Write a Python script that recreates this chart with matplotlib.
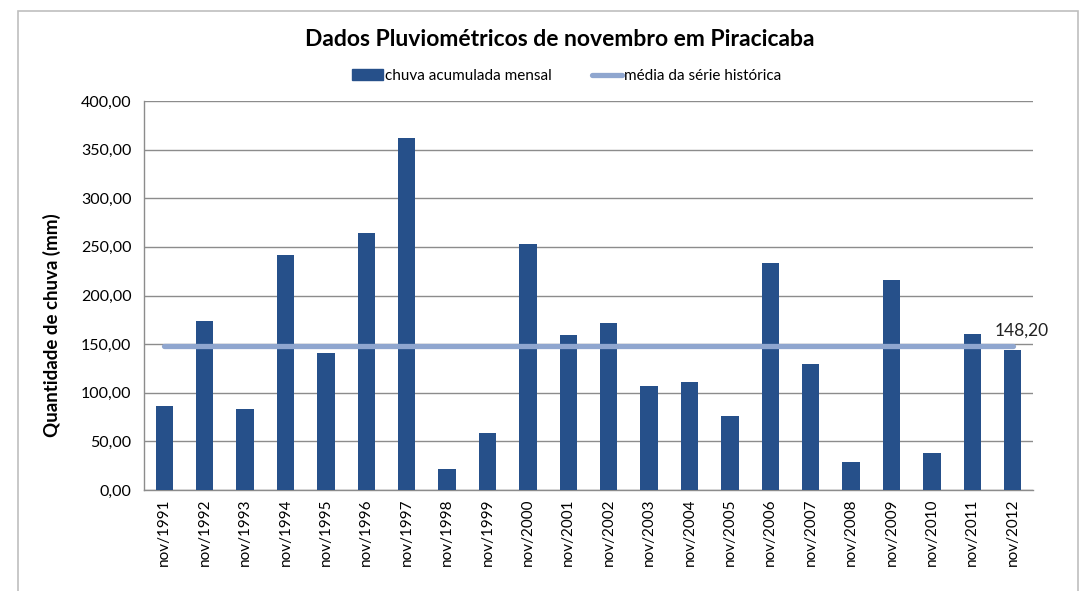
import matplotlib.pyplot as plt
from matplotlib.patches import Rectangle
from matplotlib.lines import Line2D
from matplotlib.ticker import FuncFormatter

plt.rcParams['font.family'] = ['Lato', 'DejaVu Sans']

# monthly rainfall in November (mm)
years = [1991, 1992, 1993, 1994, 1995, 1996, 1997, 1998, 1999, 2000, 2001,
         2002, 2003, 2004, 2005, 2006, 2007, 2008, 2009, 2010, 2011, 2012]
rain = [86.6, 174.2, 83.5, 241.2, 141.2, 263.9, 361.9, 21.6, 58.8, 252.6, 159.8,
        172.2, 107.2, 111.3, 76.3, 233.0, 129.9, 28.9, 215.5, 38.1, 160.8, 144.3]
mean_value = 148.20
labels = ['nov/%d' % y for y in years]

bar_color = '#26508A'
line_color = '#8FA6CF'
grid_color = '#8C8C8C'

fig = plt.figure(figsize=(10.88, 5.91), dpi=100)
# outer chart frame
fig.patches.append(Rectangle((18 / 1088, -0.05), 1060 / 1088, 1.05 - 11 / 591,
                             transform=fig.transFigure, fill=False,
                             edgecolor='#BFBFBF', linewidth=1.2))

ax = fig.add_axes([0.1324, 0.1709, 0.8170, 0.6582])
x = list(range(len(years)))
ax.bar(x, rain, width=0.43, color=bar_color, zorder=3)
ax.plot([x[0], x[-1]], [mean_value, mean_value], color=line_color,
        linewidth=3.8, solid_capstyle='round', zorder=4)
ax.text(x[-1] - 0.45, mean_value + 7, '148,20', fontsize=12.5, color='#222222',
        ha='left', va='bottom')

ax.set_xlim(-0.5, len(years) - 0.5)
ax.set_ylim(0, 400)
ax.set_yticks(range(0, 401, 50))
ax.yaxis.set_major_formatter(FuncFormatter(lambda v, p: ('%.2f' % v).replace('.', ',')))
ax.set_xticks(x)
ax.set_xticklabels(labels, rotation=90, fontsize=11)
ax.tick_params(axis='y', labelsize=11.5, length=0, pad=9)
ax.tick_params(axis='x', length=0, pad=6)
ax.grid(axis='y', color=grid_color, linewidth=1.0, zorder=0)
for s in ['top', 'right']:
    ax.spines[s].set_visible(False)
for s in ['left', 'bottom']:
    ax.spines[s].set_color(grid_color)
    ax.spines[s].set_linewidth(1.0)

fig.text(52 / 1088, 1 - 325 / 591, 'Quantidade de chuva (mm)', rotation=90,
         fontsize=13.5, fontweight='bold', ha='center', va='center')
fig.text(560 / 1088, 1 - 40 / 591, 'Dados Pluviométricos de novembro em Piracicaba',
         fontsize=16.5, fontweight='bold', ha='center', va='center')

handles = [Rectangle((0, 0), 1, 1, color=bar_color),
           Line2D([0], [0], color=line_color, linewidth=3.8, solid_capstyle='round')]
fig.legend(handles, ['chuva acumulada mensal', 'média da série histórica'],
           loc='center', bbox_to_anchor=(567 / 1088, 1 - 76 / 591), ncol=2,
           frameon=False, fontsize=11, handlelength=2.0, handletextpad=0.15,
           columnspacing=2.6)

fig.savefig('out.png', dpi=100)
